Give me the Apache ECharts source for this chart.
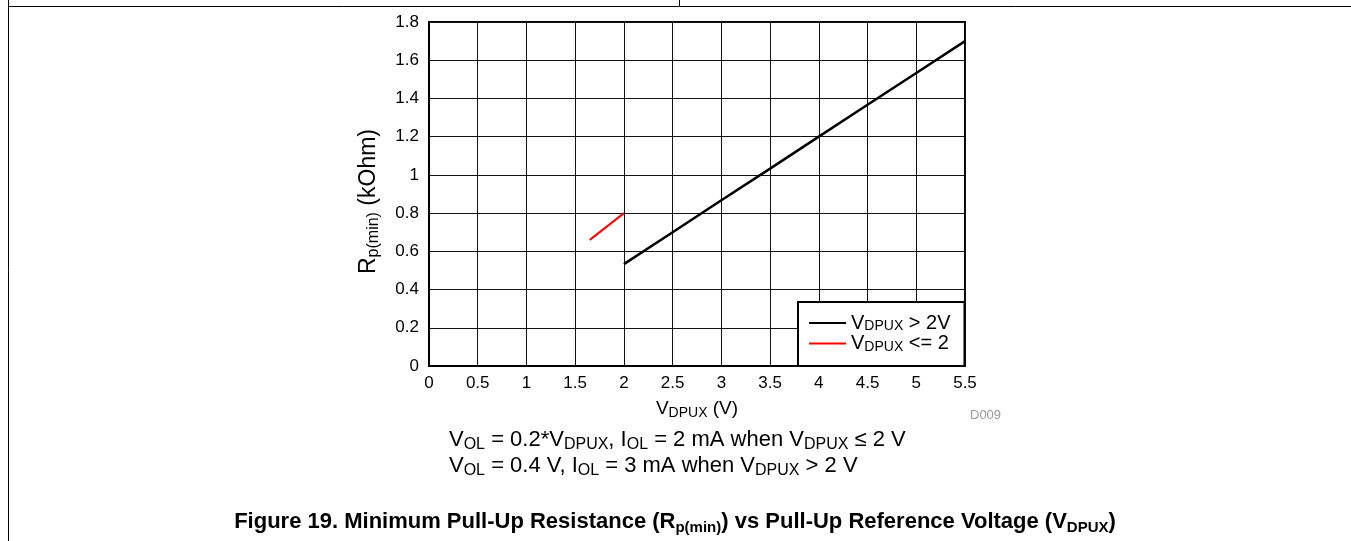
<!DOCTYPE html>
<html>
<head>
<meta charset="utf-8">
<script src="https://cdn.jsdelivr.net/npm/echarts@6/dist/echarts.min.js"></script>
<style>
html,body{margin:0;padding:0;background:#fff;}
#c{width:1351px;height:541px;}
</style>
</head>
<body>
<div id="c"></div>
<script>
// Data
const seriesNames = ['VDPUX > 2V', 'VDPUX <= 2'];
const highV = [2, 2.5, 3, 3.5, 4, 4.5, 5, 5.5];
const highR = [0.533, 0.7, 0.867, 1.033, 1.2, 1.367, 1.533, 1.7];
const lowV = [1.65, 2];
const lowR = [0.66, 0.8];
const xTickStep = 0.5, xMin = 0, xMax = 5.5;
const yTickStep = 0.2, yMin = 0, yMax = 1.8;

const FONT = '"Liberation Sans", Arial, sans-serif';
const chart = echarts.init(document.getElementById('c'), null, {renderer: 'canvas'});

// main text + subscript style; drop = how far the subscript centre sits below the main centre
function richSet(size, subSize, color, weight, lh, drop) {
  const L = lh || (size + 2);
  const d = drop == null ? 7 : drop;
  return {
    m: {fontSize: size, fontFamily: FONT, color: color, fontWeight: weight || 'normal', lineHeight: L, verticalAlign: 'middle'},
    s: {fontSize: subSize, fontFamily: FONT, color: color, fontWeight: weight || 'normal', lineHeight: Math.max(1, L - 2 * d), verticalAlign: 'bottom'}
  };
}

const legendLabels = {
  'VDPUX > 2V': '{m|V}{s|DPUX}{m| > 2V}',
  'VDPUX <= 2': '{m|V}{s|DPUX}{m| <= 2}'
};

const option = {
  backgroundColor: '#fff',
  animation: false,
  grid: {left: 429, right: 386, top: 22, bottom: 175, show: true, borderColor: '#000', borderWidth: 2, backgroundColor: 'transparent'},
  xAxis: {
    type: 'value', min: xMin, max: xMax, interval: xTickStep,
    axisLine: {show: true, lineStyle: {color: '#000', width: 2}},
    axisTick: {show: false},
    splitLine: {show: true, lineStyle: {color: '#111', width: 1}},
    axisLabel: {color: '#000', fontSize: 17, fontFamily: FONT, margin: 9},
    name: '{m|V}{s|DPUX}{m| (V)}',
    nameLocation: 'middle', nameGap: 32,
    nameTextStyle: {rich: richSet(19, 14, '#000', 'normal', 22, 7)}
  },
  yAxis: {
    type: 'value', min: yMin, max: yMax, interval: yTickStep,
    axisLine: {show: true, lineStyle: {color: '#000', width: 2}},
    axisTick: {show: false},
    splitLine: {show: true, lineStyle: {color: '#111', width: 1}},
    axisLabel: {color: '#000', fontSize: 17, fontFamily: FONT, margin: 10},
    name: '{m|R}{s|p(min)}{m| (kOhm)}',
    nameLocation: 'middle', nameGap: 47, nameRotate: 90,
    nameTextStyle: {rich: richSet(23, 16, '#000', 'normal', 26, 7), padding: [0, 15, 0, 0]}
  },
  legend: {
    orient: 'vertical', left: 798, top: 302,
    backgroundColor: '#fff', borderColor: '#000', borderWidth: 2,
    padding: [11, 14, 12, 11], itemGap: 0,
    itemWidth: 37, itemHeight: 2, icon: 'rect',
    data: seriesNames,
    formatter: function (n) { return legendLabels[n]; },
    textStyle: {rich: richSet(20, 14, '#000', 'normal', 21, 7)}
  },
  series: [
    {name: seriesNames[0], type: 'line', data: highV.map((v, i) => [v, highR[i]]), showSymbol: false, symbol: 'none',
     lineStyle: {color: '#000', width: 2.5}, itemStyle: {color: '#000'}},
    {name: seriesNames[1], type: 'line', data: lowV.map((v, i) => [v, lowR[i]]), showSymbol: false, symbol: 'none',
     lineStyle: {color: '#ff0000', width: 2}, itemStyle: {color: '#ff0000'}}
  ],
  graphic: [
    {type: 'line', shape: {x1: 8.5, y1: 0, x2: 8.5, y2: 541}, style: {stroke: '#000', lineWidth: 1}},
    {type: 'line', shape: {x1: 8, y1: 6.5, x2: 1351, y2: 6.5}, style: {stroke: '#000', lineWidth: 1}},
    {type: 'line', shape: {x1: 679.5, y1: 0, x2: 679.5, y2: 6}, style: {stroke: '#000', lineWidth: 1}},
    {type: 'text', x: 970, y: 415, style: {text: 'D009', fill: '#999', fontSize: 13, fontFamily: FONT, verticalAlign: 'middle'}},
    {type: 'text', x: 449, y: 440, style: {
      text: '{m|V}{s|OL}{m| = 0.2*V}{s|DPUX}{m|, I}{s|OL}{m| = 2 mA when V}{s|DPUX}{m| ≤ 2 V}',
      rich: richSet(22, 16, '#000', 'normal', 26, 8), verticalAlign: 'middle'}},
    {type: 'text', x: 449, y: 466, style: {
      text: '{m|V}{s|OL}{m| = 0.4 V, I}{s|OL}{m| = 3 mA when V}{s|DPUX}{m| > 2 V}',
      rich: richSet(22, 16, '#000', 'normal', 26, 8), verticalAlign: 'middle'}},
    {type: 'text', x: 675, y: 522, style: {
      text: '{m|Figure 19. Minimum Pull-Up Resistance (R}{s|p(min)}{m|) vs Pull-Up Reference Voltage (V}{s|DPUX}{m|)}',
      rich: richSet(22, 15, '#000', 'bold', 26, 8), align: 'center', verticalAlign: 'middle'}}
  ]
};
chart.setOption(option);
</script>
</body>
</html>
